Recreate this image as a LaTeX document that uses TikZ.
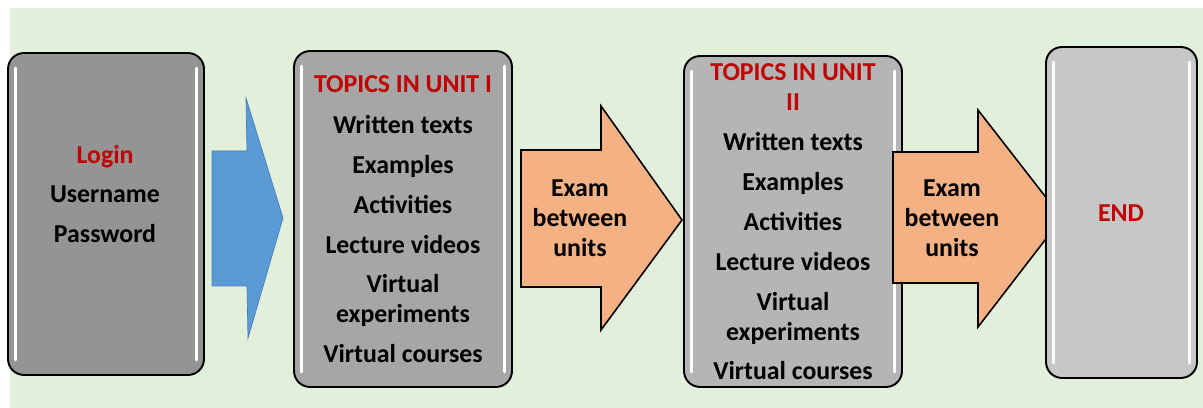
\documentclass[tikz,border=0pt]{standalone}
\usepackage{fontspec}
\setmainfont{Carlito}
\usetikzlibrary{calc}
\definecolor{bggreen}{HTML}{E2EFDA}
\definecolor{unitred}{HTML}{C00000}
\definecolor{flowblue}{HTML}{5B9BD5}
\definecolor{flowblueline}{HTML}{4A7EBB}
\definecolor{exampeach}{HTML}{F4B183}
\begin{document}
\begin{tikzpicture}[x=0.02cm,y=-0.02cm,
  panel/.style={draw=black,line width=1.1pt,rounded corners=0.32cm,inner sep=0pt},
  shine/.style={white,line width=0.06cm,line cap=round},
  lbl/.style={align=center,font=\fontsize{14.7}{17}\selectfont\bfseries,inner sep=0pt},
  hdr/.style={text=unitred}]
\useasboundingbox (0,0) rectangle (1203,408);
\fill[bggreen] (10,8) rectangle (1203,408);
% boxes
\node[panel,fill=black!42,minimum width=3.92cm,minimum height=6.44cm] (login) at (106,214) {};
\node[panel,fill=black!35,minimum width=4.36cm,minimum height=6.72cm] (unitone) at (403,219) {};
\node[panel,fill=black!29,minimum width=4.36cm,minimum height=6.62cm] (unittwo) at (793,221.5) {};
\foreach \b in {login,unitone,unittwo} {
  \draw[shine] ($(\b.north west)+(8,16)$) -- ($(\b.south west)+(8,-16)$);
  \draw[shine] ($(\b.north east)+(-8,16)$) -- ($(\b.south east)+(-8,-16)$);
}
% arrows
\filldraw[fill=flowblue,draw=flowblueline,line width=0.4pt]
  (212,151) -- (247,151) -- (246,98) -- (283,218) -- (248,338) -- (247,286) -- (212,286) -- cycle;
\filldraw[fill=exampeach,draw=black,line width=0.9pt]
  (521,150) -- (601,150) -- (601,106) -- (682,220) -- (601,330) -- (601,287) -- (521,287) -- cycle;
\filldraw[fill=exampeach,draw=black,line width=0.9pt]
  (893,152) -- (978,152) -- (978,110) -- (1062,218) -- (978,327) -- (978,283) -- (893,283) -- cycle;
\node[panel,fill=black!22,minimum width=3.02cm,minimum height=6.62cm] (fin) at (1121.5,212.5) {};
\draw[shine] ($(fin.north west)+(8,16)$) -- ($(fin.south west)+(8,-16)$);
\draw[shine] ($(fin.north east)+(-8,16)$) -- ($(fin.south east)+(-8,-16)$);
% texts
\node[lbl] (logintxt) at (105,194) {{\color{unitred}Login}\\[5.7pt]Username\\[5.7pt]Password};
\node[lbl] (unitonetxt) at (403,219) {{\color{unitred}TOPICS IN UNIT I}\\[6.5pt]Written texts\\[5.7pt]Examples\\[5.7pt]Activities\\[5.7pt]Lecture videos\\[5.7pt]Virtual\\experiments\\[5.7pt]Virtual courses};
\node[lbl] (unittwotxt) at (793,222) {{\color{unitred}TOPICS IN UNIT}\\{\color{unitred}II}\\[5.7pt]Written texts\\[5.7pt]Examples\\[5.7pt]Activities\\[5.7pt]Lecture videos\\[5.7pt]Virtual\\experiments\\[5.7pt]Virtual courses};
\node[lbl] (examone) at (580,218) {Exam\\between\\units};
\node[lbl] (examtwo) at (952,218) {Exam\\between\\units};
\node[lbl,hdr] (fintxt) at (1121,213) {END};
\end{tikzpicture}
\end{document}
